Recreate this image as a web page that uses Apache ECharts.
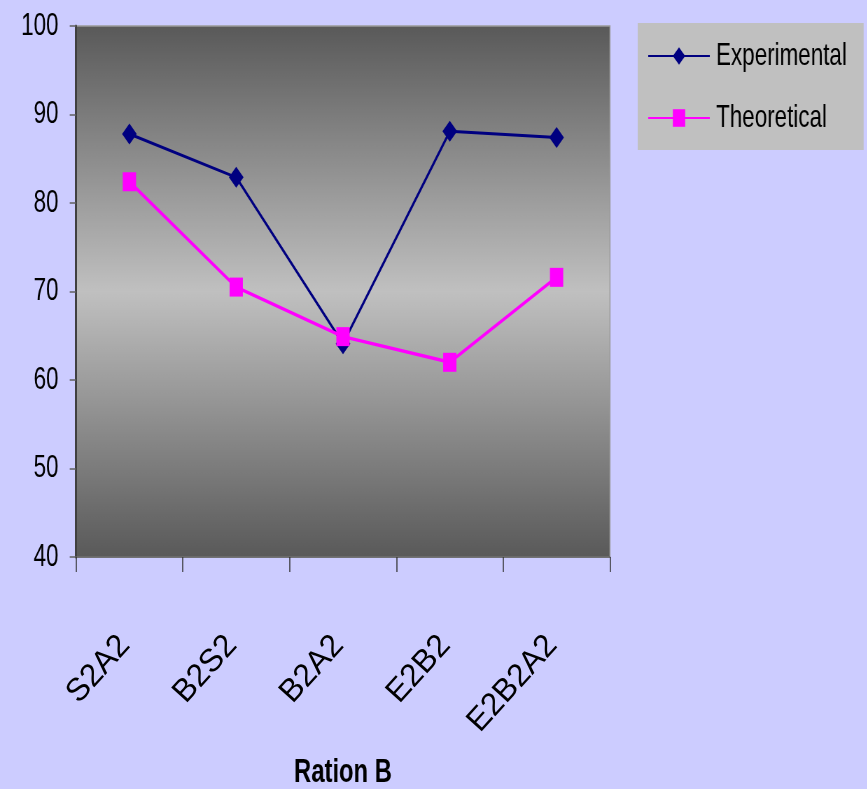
<!DOCTYPE html>
<html>
<head>
<meta charset="utf-8">
<style>
  html, body { margin: 0; padding: 0; background: #ccccff; overflow: hidden; }
  #wrap { position: relative; width: 867px; height: 789px; overflow: hidden; }
  /* the main chart is laid out wide and then condensed horizontally */
  #chart { position: absolute; left: 0; top: 0; width: 1239px; height: 789px; transform: scaleX(0.7); transform-origin: 0 0; }
  /* category labels are drawn unscaled on a transparent layer */
  #labels { position: absolute; left: 0; top: 0; width: 867px; height: 789px; pointer-events: none; }
</style>
<script src="https://cdn.jsdelivr.net/npm/echarts@6/dist/echarts.min.js"></script>
</head>
<body>
<div id="wrap"><div id="chart"></div><div id="labels"></div></div>
<script>
// Ration B: experimental vs theoretical values per ration
const categories = ['S2A2', 'B2S2', 'B2A2', 'E2B2', 'E2B2A2'];
const experimental = [87.8, 82.9, 64.1, 88.1, 87.4];
const theoretical = [82.4, 70.5, 64.9, 62.0, 71.6];
const yTicks = { min: 40, max: 100, step: 10 };

const FONT = "'Liberation Sans', Arial, sans-serif";

const chart = echarts.init(document.getElementById('chart'), null, { renderer: 'canvas' });

chart.setOption({
  backgroundColor: '#ccccff',
  animation: false,
  textStyle: { fontFamily: FONT, color: '#000' },
  grid: {
    left: 108.6, top: 26, width: 762.8, height: 531,
    outerBoundsMode: 'none',
    containLabel: false,
    show: true,
    borderColor: '#9a9a9a',
    borderWidth: 1.5,
    backgroundColor: {
      type: 'linear', x: 0, y: 0, x2: 0, y2: 1,
      colorStops: [
        { offset: 0, color: '#595959' },
        { offset: 0.5, color: '#c0c0c0' },
        { offset: 1, color: '#595959' }
      ]
    }
  },
  legend: {
    orient: 'vertical',
    left: 911, top: 23,
    backgroundColor: '#c0c0c0',
    borderRadius: 0,
    padding: [17, 24, 16, 14],
    itemGap: 30,
    itemWidth: 88,
    itemHeight: 22,
    textStyle: { fontFamily: FONT, fontSize: 32, color: '#000', padding: [0, 0, 0, 4] },
    data: ['Experimental', 'Theoretical']
  },
  xAxis: {
    type: 'category',
    data: categories,
    boundaryGap: true,
    name: 'Ration B',
    nameLocation: 'middle',
    nameGap: 199,
    nameTextStyle: { fontFamily: FONT, fontWeight: 'bold', fontSize: 34, color: '#000' },
    axisLine: { show: true, lineStyle: { color: '#606060', width: 1.5 } },
    axisTick: { show: true, alignWithLabel: false, length: 15, lineStyle: { color: '#303030', width: 1.5 } },
    axisLabel: { show: false },
    splitLine: { show: false }
  },
  yAxis: {
    type: 'value',
    min: yTicks.min, max: yTicks.max, interval: yTicks.step,
    axisLine: { show: true, lineStyle: { color: '#404040', width: 3 } },
    axisTick: { show: true, length: 9, lineStyle: { color: '#606060', width: 1.5 } },
    axisLabel: { margin: 25, fontFamily: FONT, fontSize: 32, color: '#000' },
    splitLine: { show: false }
  },
  series: [
    {
      name: 'Experimental',
      type: 'line',
      data: experimental,
      symbol: 'diamond',
      symbolSize: 21,
      color: '#000080',
      lineStyle: { color: '#000080', width: 3 },
      itemStyle: { color: '#000080' },
      z: 2
    },
    {
      name: 'Theoretical',
      type: 'line',
      data: theoretical,
      symbol: 'rect',
      symbolSize: 19,
      color: '#ff00ff',
      lineStyle: { color: '#ff00ff', width: 3.5 },
      itemStyle: { color: '#ff00ff' },
      z: 3
    }
  ]
});

// Rotated category labels on the same plot frame, unscaled
const labelChart = echarts.init(document.getElementById('labels'), null, { renderer: 'canvas' });
labelChart.setOption({
  backgroundColor: 'transparent',
  animation: false,
  grid: {
    left: 76, top: 26, width: 534, height: 531,
    outerBoundsMode: 'none',
    containLabel: false,
    show: false
  },
  xAxis: {
    type: 'category',
    data: categories,
    boundaryGap: true,
    axisLine: { show: false },
    axisTick: { show: false },
    axisLabel: { rotate: 48, margin: 78, padding: [0, 7, 0, 0], fontFamily: FONT, fontSize: 32, color: '#000' },
    splitLine: { show: false }
  },
  yAxis: {
    type: 'value',
    min: yTicks.min, max: yTicks.max, interval: yTicks.step,
    show: false
  }
});
</script>
</body>
</html>
